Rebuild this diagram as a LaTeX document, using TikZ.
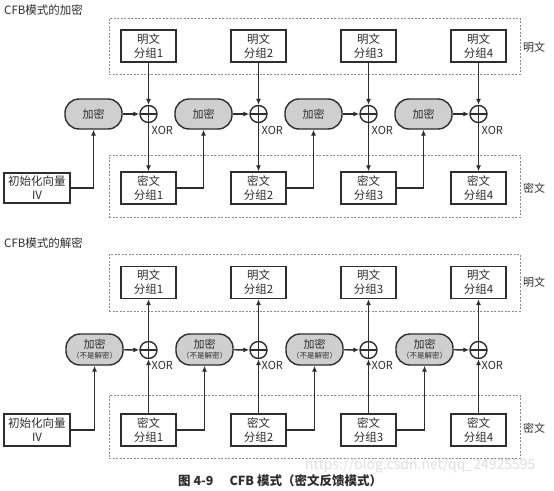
\documentclass[tikz,border=0pt]{standalone}
\usepackage{fontspec}
\setmainfont{Noto Sans CJK SC}
\usetikzlibrary{arrows.meta}
\definecolor{lc}{HTML}{2E2E2E}
\definecolor{pillc}{HTML}{CFCFCF}
\definecolor{dashc}{HTML}{8A8A8A}
\definecolor{wm}{HTML}{E0E0E0}
\begin{document}
\begin{tikzpicture}[x=1pt,y=-1pt,
  blk/.style={draw=lc, line width=1.4pt, fill=white, minimum width=55pt, minimum height=32pt, inner sep=0pt, align=center, font=\fontsize{11.5}{14}\selectfont, text=lc},
  ivbox/.style={blk, minimum width=66pt, minimum height=30pt},
  pill/.style={draw=lc, line width=1.4pt, fill=pillc, rounded corners=14pt, minimum width=57pt, minimum height=30pt, inner sep=0pt, align=center, font=\fontsize{11}{12}\selectfont, text=lc},
  grp/.style={draw=dashc, dash pattern=on 2pt off 1.5pt, line width=0.7pt, inner sep=0pt},
  xorn/.style={circle, draw=lc, line width=1.4pt, fill=white, minimum size=17pt, inner sep=0pt,
    path picture={\draw[lc, line width=1.4pt] (path picture bounding box.north) -- (path picture bounding box.south) (path picture bounding box.west) -- (path picture bounding box.east);}},
  arr/.style={draw=lc, line width=1.4pt, -{Latex[length=6pt,width=5pt]}},
  lbl/.style={font=\fontsize{11}{12}\selectfont, text=lc, inner sep=0pt},
  ttl/.style={font=\fontsize{11.5}{13}\selectfont, text=lc, inner sep=0pt, anchor=west}]
\useasboundingbox (0,0) rectangle (554,490);
\fill[white] (0,0) rectangle (554,490);

% ---------- encryption ----------
\node[ttl] (t1) at (4,10) {CFB模式的加密};
\node[grp, minimum width=411pt, minimum height=56pt] (gp1) at (314.5,46) {};
\node[grp, minimum width=411pt, minimum height=62pt] (gc1) at (314.5,186) {};
\node[lbl] (lp1) at (534,47) {明文};
\node[lbl] (lc1) at (534,188) {密文};
\node[ivbox] (iv) at (37,188) {初始化向量\\IV};
\foreach \i/\x in {1/148.5,2/258.5,3/368.5,4/478.5}{
  \node[blk] (p\i) at (\x,46) {明文\\分组\i};
  \node[blk] (c\i) at (\x,188) {密文\\分组\i};
  \node[xorn] (x\i) at (\x,114) {};
  \node[pill] (e\i) at (\x-55,114) {加密};
  \node[lbl, anchor=west] (xl\i) at (\x+3,130) {XOR};
  \draw[arr] (p\i) -- (x\i);
  \draw[arr] (x\i) -- (c\i);
  \draw[arr] (e\i) -- (x\i);
}
\draw[arr] (iv.east) -| (e1.south);
\draw[arr] (c1.east) -| (e2.south);
\draw[arr] (c2.east) -| (e3.south);
\draw[arr] (c3.east) -| (e4.south);

% ---------- decryption ----------
\node[ttl] (t2) at (4,243) {CFB模式的解密};
\node[grp, minimum width=411pt, minimum height=57pt] (gp2) at (314.5,282.5) {};
\node[grp, minimum width=411pt, minimum height=63pt] (gc2) at (314.5,426.5) {};
\node[lbl] (lp2) at (534,282) {明文};
\node[lbl] (lc2) at (534,428) {密文};
\node[ivbox, minimum height=32pt] (div) at (37,430) {初始化向量\\IV};
\foreach \i/\x in {1/148.5,2/258.5,3/368.5,4/478.5}{
  \node[blk] (dp\i) at (\x,282.5) {明文\\分组\i};
  \node[blk] (dc\i) at (\x,430) {密文\\分组\i};
  \node[xorn] (dx\i) at (\x,350) {};
  \node[pill, minimum height=31pt] (de\i) at (\x-54,349.5) {加密\\[-2pt]{\fontsize{7.5}{9}\selectfont （不是解密）}};
  \node[lbl, anchor=west] (dxl\i) at (\x+3,365.5) {XOR};
  \draw[arr] (dc\i) -- (dx\i);
  \draw[arr] (dx\i) -- (dp\i);
  \draw[arr] (de\i) -- (dx\i);
}
\draw[arr] (div.east) -| (de1.south);
\draw[arr] (dc1.east) -| (de2.south);
\draw[arr] (dc2.east) -| (de3.south);
\draw[arr] (dc3.east) -| (de4.south);

% ---------- caption ----------
\node[font=\fontsize{14}{15}\selectfont, text=wm, inner sep=0pt, anchor=west] (wmk) at (305,466) {https://blog.csdn.net/qq\_24925595};
\node[font=\fontsize{12.5}{14}\selectfont\bfseries, text=lc, inner sep=0pt, anchor=west] (cap) at (178,481) {图 4-9\hspace{16pt}CFB 模式（密文反馈模式）};
\end{tikzpicture}
\end{document}
